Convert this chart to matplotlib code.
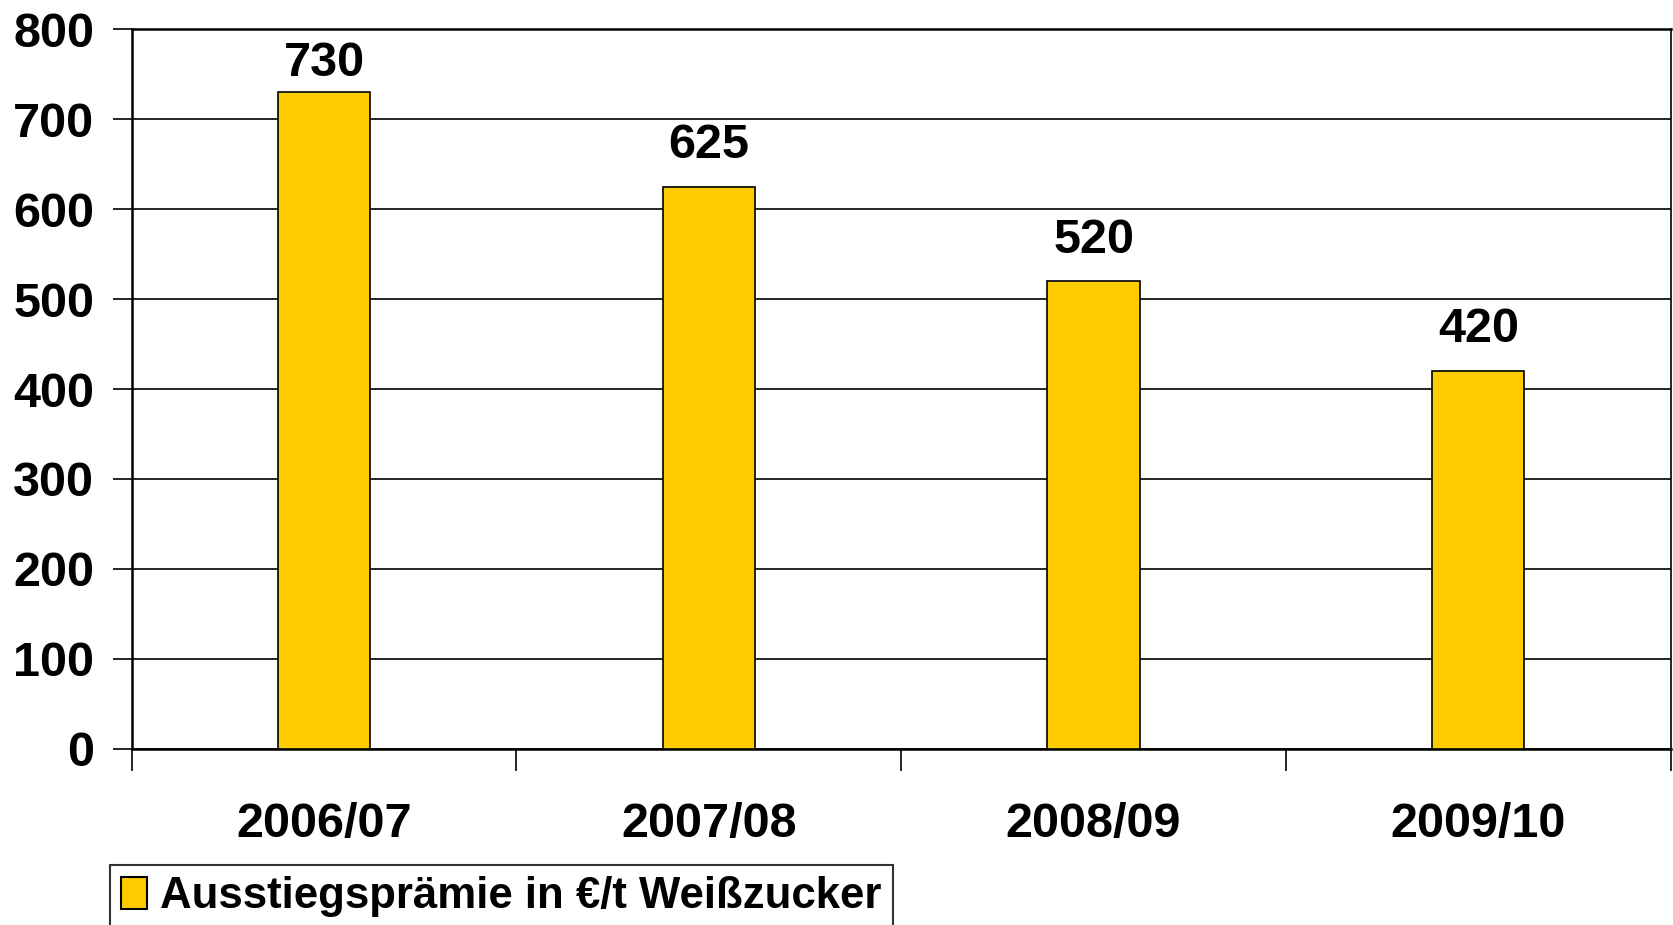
import matplotlib
matplotlib.use("Agg")
import matplotlib.pyplot as plt
from matplotlib.patches import Patch

# values
seasons = ["2006/07", "2007/08", "2008/09", "2009/10"]
premium = [730, 625, 520, 420]
series_name = "Ausstiegsprämie in €/t Weißzucker"
y_ticks = [0, 100, 200, 300, 400, 500, 600, 700, 800]

bar_color = "#FFCC00"
font_name = "Liberation Sans"
# label gap above each bar in points (first one is squeezed by the plot top)
label_gap = [4, 13, 13, 14]

plt.rcParams["font.family"] = [font_name, "DejaVu Sans"]
plt.rcParams["font.weight"] = "bold"

fig = plt.figure(figsize=(16.74, 9.25), dpi=100)
ax = fig.add_axes([0.0787, 0.1903, 0.9193, 0.7783])

x = list(range(len(seasons)))
bars = ax.bar(x, premium, width=0.24, color=bar_color, edgecolor="black",
              linewidth=1.2, zorder=3)

for b, v, gap in zip(bars, premium, label_gap):
    ax.annotate(str(v), xy=(b.get_x() + b.get_width() / 2, v),
                xytext=(0, gap), textcoords="offset points",
                ha="center", va="bottom", fontsize=35, fontweight="bold")

ax.set_xlim(-0.5, len(seasons) - 0.5)
ax.set_ylim(0, 800)
ax.set_yticks(y_ticks)
ax.set_yticklabels([str(t) for t in y_ticks], fontsize=35, fontweight="bold")
ax.yaxis.grid(True, color="black", linewidth=1.2, zorder=0)
ax.set_axisbelow(True)

# ticks between categories, labels centered under bars
ax.set_xticks([i - 0.5 for i in range(len(seasons) + 1)])
ax.set_xticklabels([])
ax.set_xticks(x, minor=True)
ax.set_xticklabels(seasons, minor=True, fontsize=35, fontweight="bold")
ax.tick_params(axis="x", which="major", length=16, width=1.2, direction="out")
ax.tick_params(axis="x", which="minor", length=0, pad=38)
ax.tick_params(axis="y", length=14, width=1.2, direction="out", pad=13)

for side in ["left", "top", "bottom"]:
    ax.spines[side].set_linewidth(1.8)
ax.spines["right"].set_linewidth(1.2)

handle = Patch(facecolor=bar_color, edgecolor="black", linewidth=1.5)
leg = fig.legend([handle], [series_name], loc="upper left",
                 bbox_to_anchor=(0.0657, 0.0649), bbox_transform=fig.transFigure,
                 fontsize=31.5, frameon=True, fancybox=False, shadow=False,
                 handlelength=0.6, handleheight=0.75, handletextpad=0.3,
                 borderpad=0.25, borderaxespad=0)
leg.get_frame().set_edgecolor("black")
leg.get_frame().set_linewidth(1.5)
for t in leg.get_texts():
    t.set_fontweight("bold")

fig.savefig("out.png", dpi=100)
